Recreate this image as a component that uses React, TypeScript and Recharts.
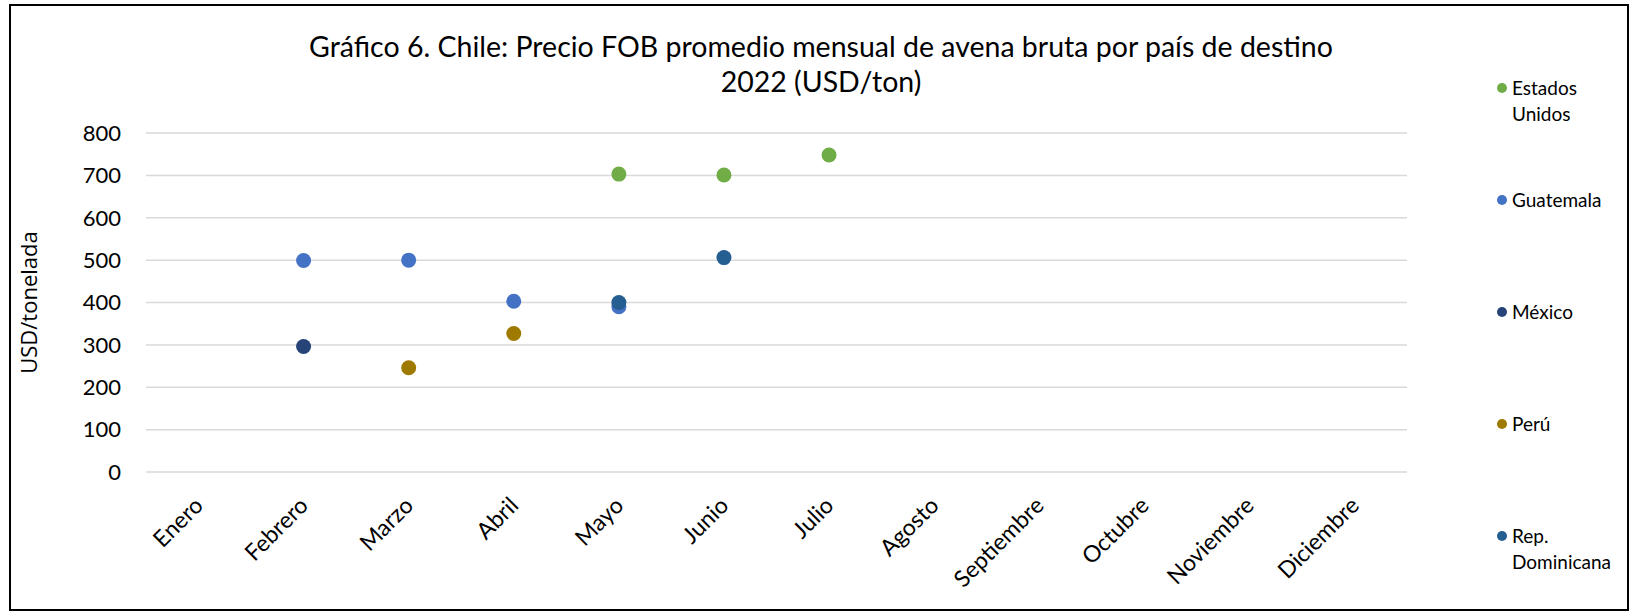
import React from 'react';
import { ComposedChart, Line, XAxis, YAxis, CartesianGrid } from 'recharts';

const months = ['Enero', 'Febrero', 'Marzo', 'Abril', 'Mayo', 'Junio', 'Julio', 'Agosto', 'Septiembre', 'Octubre', 'Noviembre', 'Diciembre'];
const estadosUnidos = [null, null, null, null, 703, 701, 748, null, null, null, null, null];
const guatemala = [null, 499, 500, 403, 390, null, null, null, null, null, null, null];
const mexico = [null, 296, null, null, null, null, null, null, null, null, null, null];
const peru = [null, null, 246, 327, null, null, null, null, null, null, null, null];
const repDominicana = [null, null, null, null, 400, 506, null, null, null, null, null, null];
const yTicks = [0, 100, 200, 300, 400, 500, 600, 700, 800];

const seriesList = [
  { key: 'eeuu', name: 'Estados Unidos', color: '#70AD47', values: estadosUnidos },
  { key: 'guatemala', name: 'Guatemala', color: '#4472C4', values: guatemala },
  { key: 'mexico', name: 'México', color: '#264478', values: mexico },
  { key: 'peru', name: 'Perú', color: '#9E7A00', values: peru },
  { key: 'repdom', name: 'Rep. Dominicana', color: '#255E91', values: repDominicana },
];

const data = months.map((m, i) => {
  const row: any = { month: m };
  seriesList.forEach((s) => {
    row[s.key] = s.values[i];
  });
  return row;
});

const FONT = 'Lato, "Noto Sans", sans-serif';

const XTick = (props: any) => {
  const { x, y, payload } = props;
  return (
    <g transform={`translate(${x + 6},${y + 35})`}>
      <text x={0} y={0} textAnchor="end" transform="rotate(-45)" fill="#000" fontSize={23} fontFamily={FONT}>
        {payload.value}
      </text>
    </g>
  );
};

const LegendBox = () => (
  <div style={{ position: 'absolute', left: 1497, top: 75, width: 140, fontFamily: FONT, fontSize: 19, color: '#000' }}>
    {seriesList.map((s) => (
      <div key={s.key} style={{ height: 112, display: 'flex', alignItems: 'flex-start' }}>
        <div style={{ width: 10, height: 10, borderRadius: 5, background: s.color, marginTop: 8, marginRight: 5, flex: 'none' }} />
        <div style={{ width: 105, lineHeight: '26px' }}>{s.name}</div>
      </div>
    ))}
  </div>
);

export default function App() {
  return (
    <div style={{ position: 'absolute', left: 0, top: 0, width: 1640, height: 616, background: '#fff' }}>
      <div style={{ position: 'absolute', left: 9, top: 4, width: 1620, height: 607, border: '2px solid #000', boxSizing: 'border-box' }} />
      <div style={{ position: 'absolute', left: 0, top: 0, width: 1640, height: 616 }}>
        <ComposedChart width={1640} height={616} data={data} margin={{ top: 133, right: 233, bottom: 0, left: 0 }}>
          <CartesianGrid vertical={false} stroke="#D9D9D9" strokeWidth={1.5} />
          <XAxis dataKey="month" type="category" axisLine={false} tickLine={false} tickSize={0} tickMargin={0} height={144} interval={0}
            padding={{ left: 52.5, right: 52.5 }} tick={<XTick />} />
          <YAxis type="number" domain={[0, 800]} ticks={yTicks} axisLine={false} tickLine={false} tickSize={0} tickMargin={25} width={146}
            tick={{ fill: '#000', fontSize: 22, fontFamily: FONT }}
            label={{ value: 'USD/tonelada', angle: -90, position: 'insideLeft', dx: 24, dy: 0, style: { textAnchor: 'middle', fill: '#000', fontSize: 22, fontFamily: '"Open Sans", sans-serif' } }} />
          {seriesList.map((s) => (
            <Line key={s.key} dataKey={s.key} name={s.name} stroke="none" strokeWidth={0} isAnimationActive={false} activeDot={false}
              dot={{ r: 7.5, fill: s.color, stroke: 'none' }} legendType="circle" />
          ))}
        </ComposedChart>
      </div>
      <LegendBox />
      <div style={{ position: 'absolute', left: 0, top: 29, width: 1642, textAlign: 'center', fontFamily: FONT, fontSize: 28.5, lineHeight: '35px', color: '#000' }}>
        <div>Gráfico 6. Chile: Precio FOB promedio mensual de avena bruta por país de destino</div>
        <div>2022 (USD/ton)</div>
      </div>
    </div>
  );
}
